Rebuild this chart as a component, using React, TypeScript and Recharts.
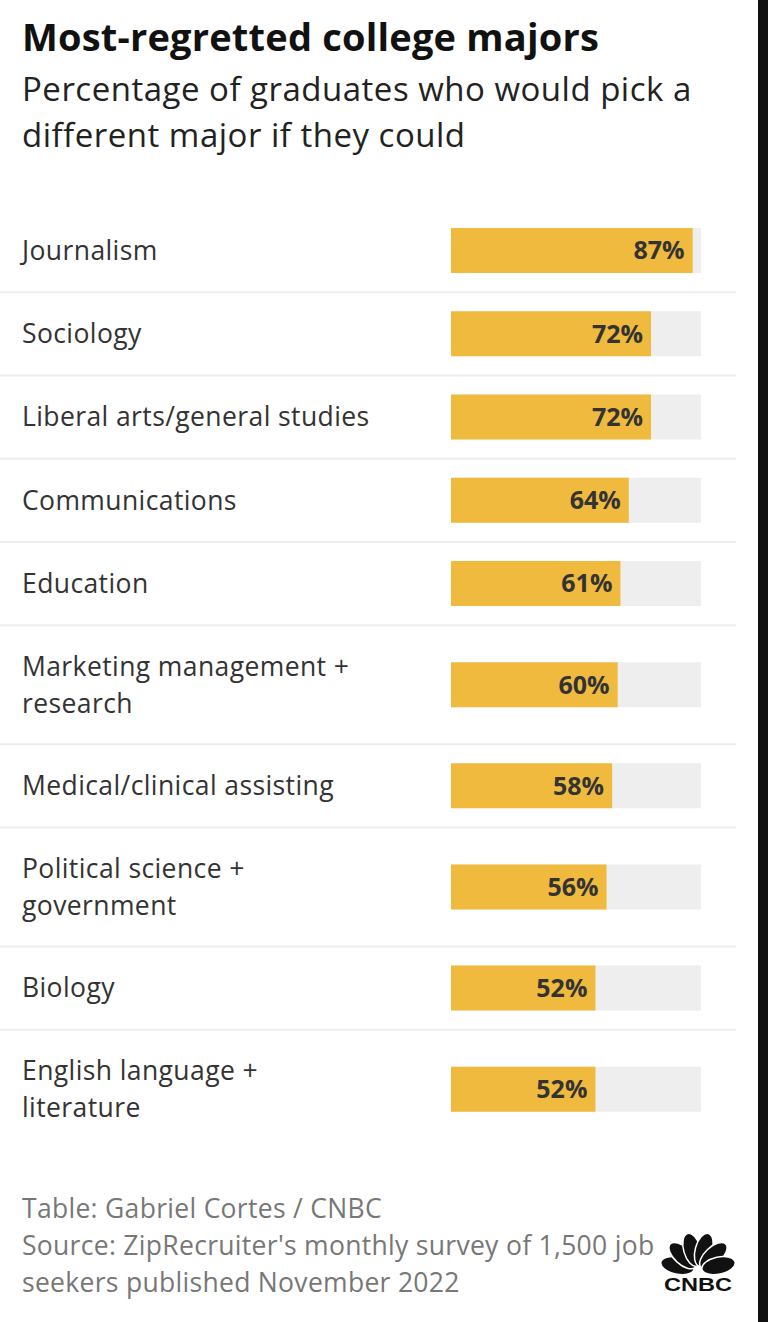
import { BarChart, Bar, XAxis, YAxis, LabelList } from 'recharts'

const categories = [
  'Journalism',
  'Sociology',
  'Liberal arts/general studies',
  'Communications',
  'Education',
  'Marketing management + research',
  'Medical/clinical assisting',
  'Political science + government',
  'Biology',
  'English language + literature',
]
const values = [87, 72, 72, 64, 61, 60, 58, 56, 52, 52]
const xDomain = [0, 90]

const FONT = '"Open Sans", Lato, sans-serif'
const BAR = '#F0BA3F'
const TRACK = '#EEEEEE'

// labels with a " + " break after the plus sign, like the original table
const wrap = (s: string) => {
  const parts = s.split(' + ')
  return parts.length > 1 ? [parts[0] + ' +', parts.slice(1).join(' + ')] : [s]
}

const ROW_BASE = 47.5
const LINE_H = 35.75

let acc = 0
const rows = categories.map((name, i) => {
  const lines = wrap(name)
  const h = ROW_BASE + LINE_H * lines.length
  const mid = acc + h / 2
  acc += h
  return { name, lines, h, mid, value: values[i], last: i === categories.length - 1 }
})
const total = acc

function RowTick(props: any) {
  const { y, payload } = props
  const row = rows.find((r) => Math.abs(r.mid - payload.value) < 0.01)
  if (!row) return null
  const n = row.lines.length
  return (
    <g>
      {row.lines.map((l, i) => (
        <text
          key={i}
          x={22}
          y={y + (i - (n - 1) / 2) * 37}
          dy="0.35em"
          textAnchor="start"
          fill="#333"
          fontSize={26.5}
          letterSpacing={0.4}
          fontFamily={FONT}
        >
          {l}
        </text>
      ))}
      {!row.last && (
        <line x1={0} x2={736} y1={y + row.h / 2} y2={y + row.h / 2} stroke={TRACK} strokeWidth={2} />
      )}
    </g>
  )
}

function Peacock() {
  const angles = [-78, -47, -16, 16, 47, 78]
  return (
    <svg width={80} height={64} viewBox="0 0 80 64" style={{ position: 'absolute', left: 658, top: 1230 }}>
      <g transform="translate(40,40)">
        {angles.map((a) => (
          <ellipse key={a} cx={0} cy={-21} rx={8.5} ry={17} fill="#111" stroke="#fff" strokeWidth={1.5} transform={`rotate(${a})`} />
        ))}
      </g>
      <text x={6} y={61} textLength={68} lengthAdjust="spacingAndGlyphs" fontFamily='"Liberation Sans", Arial, sans-serif' fontWeight={900} fontSize={19} fill="#111">
        CNBC
      </text>
    </svg>
  )
}

export default function App() {
  return (
    <div style={{ position: 'absolute', left: 0, top: 0, width: 768, height: 1322, background: '#fff', fontFamily: FONT, overflow: 'hidden' }}>
      <div style={{ position: 'absolute', right: 0, top: 0, width: 10, height: 1322, background: '#111' }} />
      <div style={{ position: 'absolute', left: 22, top: 12, fontSize: 38, fontWeight: 700, color: '#111', lineHeight: '48px', letterSpacing: 0.2 }}>
        Most-regretted college majors
      </div>
      <div style={{ position: 'absolute', left: 22, top: 66, width: 730, fontSize: 33, letterSpacing: 0.5, color: '#222', lineHeight: '45.5px' }}>
        Percentage of graduates who would pick a<br />different major if they could
      </div>
      <div style={{ position: 'absolute', left: 0, top: 209 }}>
        <BarChart width={758} height={total} layout="vertical" data={rows} margin={{ top: 0, right: 57, bottom: 0, left: 0 }}>
          <XAxis type="number" domain={xDomain} hide />
          <YAxis
            type="number"
            dataKey="mid"
            domain={[0, total]}
            ticks={rows.map((r) => r.mid)}
            interval={0}
            width={451}
            axisLine={false}
            tickLine={false}
            tick={<RowTick />}
          />
          <Bar dataKey="value" fill={BAR} barSize={45} background={{ fill: TRACK }} isAnimationActive={false}>
            <LabelList
              dataKey="value"
              position="insideRight"
              offset={8}
              formatter={(v: any) => `${v}%`}
              fill="#333"
              fontSize={25}
              fontWeight={700}
              fontFamily={FONT}
            />
          </Bar>
        </BarChart>
      </div>
      <div style={{ position: 'absolute', left: 22, top: 1190, fontSize: 26.5, letterSpacing: 0.3, color: '#777', lineHeight: '37px' }}>
        Table: Gabriel Cortes / CNBC
        <br />
        Source: ZipRecruiter's monthly survey of 1,500 job
        <br />
        seekers published November 2022
      </div>
      <Peacock />
    </div>
  )
}
